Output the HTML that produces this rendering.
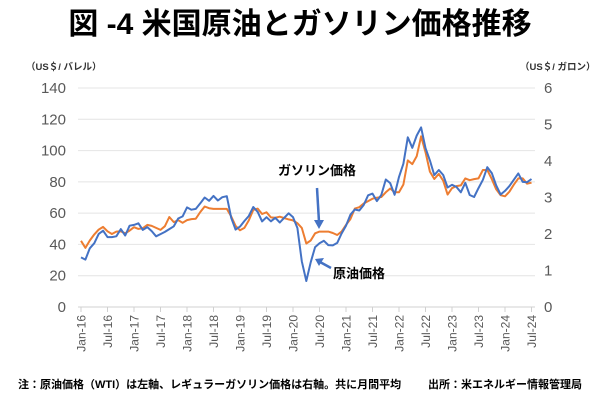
<!DOCTYPE html>
<html><head><meta charset="utf-8"><style>
body{margin:0;background:#fff;}
svg{display:block;font-family:"Liberation Sans","Noto Sans CJK JP",sans-serif;}
</style></head><body>
<svg width="600" height="400" viewBox="0 0 600 400" xmlns="http://www.w3.org/2000/svg">
<text x="300" y="34" text-anchor="middle" font-size="30" font-weight="bold" fill="#000">図 -4 米国原油とガソリン価格推移</text>
<text x="26" y="70" font-size="9.5" font-weight="bold" fill="#333">（US＄/ バレル）</text>
<text x="520" y="70" font-size="9.5" font-weight="bold" fill="#333">（US＄/ ガロン）</text>
<g id="grid"></g>
<polyline id="gas" fill="none" stroke="#ED7D31" stroke-width="2" stroke-linejoin="round"/>
<polyline id="oil" fill="none" stroke="#4472C4" stroke-width="2" stroke-linejoin="round"/>
<text x="278" y="175" font-size="13" font-weight="bold" fill="#000">ガソリン価格</text>
<line x1="317" y1="188" x2="319" y2="222" stroke="#4472C4" stroke-width="2.5"/>
<polygon points="314,220 324,220 319,229" fill="#4472C4"/>
<text x="333" y="278" font-size="13" font-weight="bold" fill="#000">原油価格</text>
<line x1="331" y1="268" x2="320" y2="262" stroke="#4472C4" stroke-width="2.5"/>
<polygon points="315,259 324,258 319,266" fill="#4472C4"/>
<text x="18" y="388" font-size="11" font-weight="bold" fill="#000">注：原油価格（WTI）は左軸、レギュラーガソリン価格は右軸。共に月間平均</text>
<text x="428" y="388" font-size="11" font-weight="bold" fill="#000">出所：米エネルギー情報管理局</text>
</svg>
<script>
var oil=[31.7,30.3,37.5,40.8,46.7,48.8,44.7,44.7,45.2,49.8,45.7,52.0,
52.5,53.5,49.3,51.1,48.5,45.2,46.6,48.0,49.8,51.6,56.6,57.9,
63.7,62.2,62.7,66.3,70.0,67.9,71.0,68.1,70.2,70.8,57.0,49.5,
51.4,55.0,58.2,63.9,60.8,54.7,57.4,54.8,57.0,54.0,57.0,59.9,
57.5,50.5,29.2,16.6,28.6,38.3,40.7,42.3,39.6,39.4,41.0,47.0,
52.0,59.0,62.3,61.7,65.2,71.4,72.5,67.7,71.6,81.5,79.2,71.7,
83.2,91.6,108.5,101.8,109.6,114.8,101.6,93.7,84.3,87.6,84.4,76.4,
78.1,76.8,73.3,79.4,71.6,70.3,76.0,81.3,89.4,85.6,77.7,71.9,
74.2,77.3,81.3,85.4,80.0,79.8,81.8];
var gas=[1.95,1.74,1.96,2.14,2.28,2.36,2.23,2.15,2.22,2.23,2.17,2.25,
2.35,2.30,2.32,2.42,2.39,2.33,2.27,2.38,2.65,2.50,2.56,2.48,
2.56,2.59,2.60,2.80,2.96,2.91,2.89,2.89,2.89,2.89,2.67,2.39,
2.26,2.33,2.55,2.86,2.90,2.74,2.79,2.64,2.63,2.66,2.62,2.58,
2.55,2.47,2.33,1.87,1.96,2.17,2.22,2.22,2.22,2.18,2.12,2.22,
2.42,2.59,2.90,2.94,3.05,3.12,3.19,3.22,3.24,3.38,3.49,3.38,
3.38,3.61,4.32,4.21,4.44,5.03,4.56,3.99,3.77,3.92,3.72,3.31,
3.39,3.45,3.47,3.67,3.62,3.65,3.67,3.91,3.91,3.65,3.36,3.19,
3.16,3.29,3.49,3.67,3.67,3.52,3.55];
var x0=81,dx=26.5/6,y0=307,h=219;
function X(i){return x0+i*dx;}
var o=oil.map(function(v,i){return X(i).toFixed(1)+","+(y0-v/140*h).toFixed(1)}).join(" ");
var g=gas.map(function(v,i){var f=i>=84?0.96:0.93;return X(i).toFixed(1)+","+(y0-v*f/6*h).toFixed(1)}).join(" ");
document.getElementById("oil").setAttribute("points",o);
document.getElementById("gas").setAttribute("points",g);
var s="";
for(var k=0;k<=7;k++){var y=y0-k*h/7;
 s+='<line x1="78" x2="535" y1="'+y+'" y2="'+y+'" stroke="'+(k==0?'#d0d0d0':'#e4e4e4')+'" stroke-width="1"/>';
 s+='<text x="66" y="'+(y+5)+'" text-anchor="end" font-size="15" fill="#595959">'+(k*20)+'</text>';}
for(var k=0;k<=6;k++){var y=y0-k*h/6;
 s+='<text x="544" y="'+(y+5)+'" font-size="15" fill="#595959">'+k+'</text>';}
var m=["Jan","Jul"];
for(var t=0;t<=17;t++){var x=x0+t*26.5;
 s+='<line x1="'+x+'" x2="'+x+'" y1="307" y2="312" stroke="#d0d0d0"/>';
 var lab=m[t%2]+"-"+(16+Math.floor(t/2));
 s+='<text transform="translate('+(x+4.5)+',315) rotate(-90)" text-anchor="end" font-size="12" fill="#595959">'+lab+'</text>';}
document.getElementById("grid").innerHTML=s;
</script>
</body></html>
